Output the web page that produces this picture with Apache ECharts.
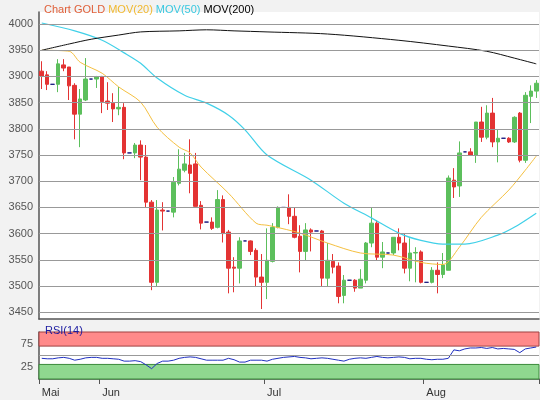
<!DOCTYPE html>
<html><head><meta charset="utf-8">
<script src="https://cdn.jsdelivr.net/npm/echarts@6/dist/echarts.min.js"></script>
<style>html,body{margin:0;padding:0;background:#f2f2f2}#c{width:540px;height:400px}</style>
</head><body><div id="c"></div>
<script>
// candles: [open, close, low, high]
const candles = [
[3910,3900,3876,3929],[3903,3885,3874,3910],[3885,3885,3885,3885],[3885,3924,3870,3933],[3922,3916,3910,3933],
[3918,3882,3855,3918],[3883,3828,3780,3887],[3828,3857,3765,3876],[3855,3895,3853,3935],[3895,3895,3895,3895],
[3895,3899,3878,3901],[3900,3852,3830,3901],[3853,3849,3836,3889],[3849,3838,3813,3868],[3838,3841,3826,3880],
[3841,3754,3742,3849],[3754,3754,3754,3754],[3754,3769,3744,3773],[3769,3746,3702,3778],[3746,3660,3650,3769],
[3660,3507,3492,3664],[3507,3645,3500,3664],[3645,3643,3606,3660],[3643,3643,3643,3643],[3641,3698,3631,3708],
[3696,3723,3692,3761],[3721,3733,3717,3754],[3731,3715,3677,3780],[3733,3652,3652,3754],[3654,3620,3608,3662],
[3622,3622,3622,3622],[3622,3610,3607,3631],[3612,3665,3610,3683],[3665,3600,3583,3673],[3603,3534,3486,3607],
[3536,3534,3488,3555],[3534,3586,3505,3593],[3586,3586,3586,3586],[3586,3566,3559,3587],[3568,3517,3498,3572],
[3517,3507,3456,3561],[3507,3549,3475,3610],[3547,3612,3545,3620],[3612,3650,3610,3652],[3650,3650,3650,3650],
[3650,3633,3618,3675],[3633,3593,3591,3650],[3595,3566,3526,3616],[3566,3607,3549,3620],[3607,3603,3566,3610],
[3605,3605,3605,3605],[3605,3515,3500,3607],[3515,3549,3500,3582],[3547,3536,3524,3561],[3538,3480,3467,3545],
[3482,3511,3467,3521],[3511,3511,3511,3511],[3511,3496,3489,3513],[3496,3513,3496,3532],[3511,3582,3505,3584],
[3582,3620,3574,3650],[3620,3555,3549,3626],[3555,3565,3534,3584],[3563,3563,3563,3563],[3563,3593,3559,3593],
[3593,3582,3568,3610],[3582,3534,3524,3600],[3534,3563,3509,3591],[3563,3564,3507,3574],[3565,3507,3505,3568],
[3507,3507,3507,3507],[3507,3530,3505,3536],[3530,3522,3486,3545],[3522,3540,3515,3563],[3530,3706,3530,3711],
[3702,3689,3668,3725],[3691,3754,3670,3776],[3756,3756,3756,3756],[3756,3750,3750,3763],[3750,3813,3735,3813],
[3813,3784,3775,3842],[3784,3830,3780,3845],[3830,3775,3765,3859],[3775,3782,3736,3798],[3782,3782,3782,3782],
[3782,3775,3773,3784],[3775,3822,3773,3824],[3830,3740,3736,3832],[3740,3864,3735,3870],[3862,3872,3811,3883],
[3872,3887,3859,3893]
];
const ma20Pts = [[0,3950],[5,3948],[7,3927],[11,3906],[14,3880],[18,3851],[21,3803],[25,3765],[27,3754],[29,3727],[34,3677],[39,3620],[41,3616],[42,3614],[47,3601],[52,3582],[58,3563],[64,3559],[69,3545],[73,3541],[76,3574],[80,3631],[85,3683],[88,3721],[90,3748]];
const ma50Pts = [[0,4002],[6,3987],[11,3969],[15,3945],[18,3925],[21,3897],[26,3864],[30,3849],[34,3826],[37,3798],[41,3750],[49,3702],[55,3658],[60,3630],[65,3601],[69,3587],[73,3580],[77,3580],[83,3597],[86,3612],[90,3639]];
const ma200Pts = [[0,3950],[5,3962],[9,3971],[14,3979],[18,3985],[25,3987],[30,3989],[35,3987],[41,3985],[52,3981],[65,3969],[74,3958],[81,3948],[86,3935],[90,3924]];
const rsi = [44,43,43,45,46,44,40,42,45,46,46,44,44,43,42,38,38,39,37,30,22,33,38,
38,40,44,46,47,46,43,40,40,40,40,44,41,36,36,40,40,40,
38,42,44,46,47,48,46,45,43,44,45,44,42,40,38,42,44,45,44,46,
48,46,45,46,47,46,43,44,44,42,41,42,42,44,
62,60,64,66,66,67,65,67,64,65,64,63,56,64,66,68];
const priceTicks = [3450,3500,3550,3600,3650,3700,3750,3800,3850,3900,3950,4000];
const monthLabels = {0:'Mai',11:'Jun',41:'Jul',70:'Aug'};

const N = candles.length;
const cats = candles.map((_,i)=>i);
function toSeries(pts){const a=new Array(N).fill(null);pts.forEach(p=>a[p[0]]=p[1]);return a;}
const UP='#5cbf5c', DOWN='#e33333', DOJI='#1a1a80';
const cData = candles.map(c=>{
  const item={value:c};
  if(c[0]===c[1]) item.itemStyle={color:DOJI,color0:DOJI,borderColor:DOJI,borderColor0:DOJI};
  return item;
});
const chart = echarts.init(document.getElementById('c'),null,{renderer:'canvas'});
const axLine={lineStyle:{color:'#555',width:1.5}};
const lbl={color:'#555',fontSize:11,fontFamily:'Arial, Liberation Sans',margin:6,formatter:(v)=>String(v)};
chart.setOption({
  backgroundColor:'#f2f2f2',
  animation:false,
  title:[{text:'{a|Chart GOLD} {b|MOV(20)} {c|MOV(50)} {d|MOV(200)}',left:39,top:-1,
    textStyle:{fontSize:11,fontFamily:'Arial, Liberation Sans',fontWeight:'normal',rich:{a:{color:'#e0603a',fontSize:11},b:{color:'#f0b830',fontSize:11},c:{color:'#38c8e0',fontSize:11},d:{color:'#000',fontSize:11}}}},
    {text:'RSI(14)',left:40,top:320,textStyle:{fontSize:11,fontWeight:'normal',color:'#1a1aa0',fontFamily:'Arial, Liberation Sans'}}],
  grid:[{left:39,right:1,top:12,height:307,backgroundColor:'#fff',show:true,borderWidth:0},
        {left:39,right:1,top:332,height:47,backgroundColor:'#fff',show:true,borderWidth:0}],
  xAxis:[{type:'category',data:cats,gridIndex:0,axisLine:axLine,axisTick:{show:false},axisLabel:{show:false},splitLine:{show:false}},
         {type:'category',data:cats,gridIndex:1,axisLine:axLine,
          axisTick:{show:true,interval:(i)=>monthLabels[i]!==undefined,length:5,lineStyle:{color:'#555'}},
          axisLabel:{interval:(i)=>monthLabels[i]!==undefined,formatter:(v)=>monthLabels[v]||'',color:'#333',fontSize:11,fontFamily:'Arial, Liberation Sans',align:'left',margin:8}}],
  yAxis:[{type:'value',gridIndex:0,min:3437,max:4023,axisLine:{show:true,lineStyle:{color:'#555',width:1.5}},
          axisTick:{show:false},splitLine:{show:false},
          axisLabel:Object.assign({customValues:priceTicks},lbl)},
         {type:'value',gridIndex:1,min:0,max:100,axisLine:{show:true,lineStyle:{color:'#555',width:1.5}},axisTick:{show:false},
          splitLine:{show:false},axisLabel:Object.assign({customValues:[25,75]},lbl)}],
  series:[
    {type:'line',xAxisIndex:0,yAxisIndex:0,data:[],symbol:'none',silent:true,
     markLine:{symbol:'none',silent:true,label:{show:false},lineStyle:{color:'#999',type:'solid',width:1},data:priceTicks.map(v=>({yAxis:v}))}},
    {type:'candlestick',xAxisIndex:0,yAxisIndex:0,data:cData,barWidth:4,
     itemStyle:{color:UP,color0:DOWN,borderColor:UP,borderColor0:DOWN,borderWidth:1}},
    {type:'line',data:toSeries(ma20Pts),connectNulls:true,smooth:0.3,symbol:'none',lineStyle:{color:'#f5c040',width:1}},
    {type:'line',data:toSeries(ma50Pts),connectNulls:true,smooth:0.3,symbol:'none',lineStyle:{color:'#40d0e8',width:1.2}},
    {type:'line',data:toSeries(ma200Pts),connectNulls:true,smooth:0.3,symbol:'none',lineStyle:{color:'#111',width:1}},
    {type:'line',xAxisIndex:1,yAxisIndex:1,data:rsi,symbol:'none',lineStyle:{color:'#2030c0',width:1},
     markArea:{silent:true,data:[
       [{yAxis:70,itemStyle:{color:'#ff8a8a',borderColor:'#a04040',borderWidth:1}},{yAxis:100}],
       [{yAxis:0,itemStyle:{color:'#8fd88f',borderColor:'#3a8a3a',borderWidth:1}},{yAxis:31}]]},
     markLine:{symbol:'none',silent:true,label:{show:false},lineStyle:{color:'#999',type:'solid',width:1},data:[{yAxis:50}]}}
  ]
});
</script></body></html>
